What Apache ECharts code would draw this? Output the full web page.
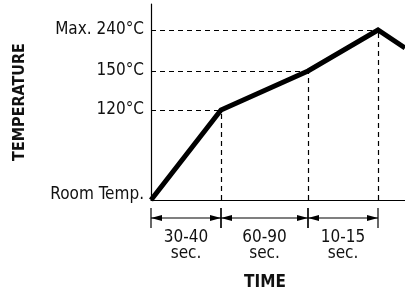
<!DOCTYPE html>
<html>
<head>
<meta charset="UTF-8"/>
<script src="https://cdn.jsdelivr.net/npm/echarts@6.0.0/dist/echarts.min.js"></script>
<style>
  html, body { margin: 0; padding: 0; background: #fff; }
  #chart { width: 405px; height: 292px; }
</style>
</head>
<body>
<div id="chart"></div>
<script>
// profile points (schematic time units / temperature levels)
var times = [0, 70, 157, 227, 254];
var levels = [0, 90, 129, 170, 152];
// y axis labelled levels
var tickLevels = [0, 90, 129, 170];
var tickLabels = ['Room Temp.', '120°C', '150°C', 'Max. 240°C'];
// time intervals under the axis
var spanStart = [0, 70, 157];
var spanEnd = [70, 157, 227];
var spanLabels = ['30-40', '60-90', '10-15'];

var FONT = "'DejaVu Sans Condensed', 'Liberation Sans Narrow', sans-serif";

var lineData = times.map(function (t, i) { return [t, levels[i]]; });

// dashed guides from axes to each knee of the curve
var guides = [];
for (var i = 1; i < 4; i++) {
    guides.push([{coord: [0, levels[i]]}, {coord: [times[i], levels[i]]}]);
    guides.push([{coord: [times[i], 0]}, {coord: [times[i], levels[i]]}]);
}

var spanData = spanStart.map(function (s, i) { return [s, spanEnd[i], spanLabels[i]]; });

function renderSpan(params, api) {
    var a = api.coord([api.value(0), 0]);
    var b = api.coord([api.value(1), 0]);
    var y0 = a[1];
    var ay = y0 + 18;
    var al = 11, ah = 3;
    var mid = (a[0] + b[0]) / 2;
    var st = {stroke: '#000', lineWidth: 1.2};
    return {
        type: 'group',
        children: [
            {type: 'line', shape: {x1: a[0], y1: y0 + 8, x2: a[0], y2: y0 + 28}, style: st},
            {type: 'line', shape: {x1: b[0], y1: y0 + 8, x2: b[0], y2: y0 + 28}, style: st},
            {type: 'line', shape: {x1: a[0], y1: ay, x2: b[0], y2: ay}, style: st},
            {type: 'polygon', shape: {points: [[a[0], ay], [a[0] + al, ay - ah], [a[0] + al, ay + ah]]}, style: {fill: '#000'}},
            {type: 'polygon', shape: {points: [[b[0], ay], [b[0] - al, ay - ah], [b[0] - al, ay + ah]]}, style: {fill: '#000'}},
            {type: 'text', x: mid, y: y0 + 38, style: {text: api.value(2), fill: '#111', font: '17px ' + FONT, align: 'center', verticalAlign: 'middle'}},
            {type: 'text', x: mid, y: y0 + 54, style: {text: 'sec.', fill: '#111', font: '17px ' + FONT, align: 'center', verticalAlign: 'middle'}}
        ]
    };
}

var chart = echarts.init(document.getElementById('chart'));
chart.setOption({
    animation: false,
    grid: {left: 151, right: 0, top: 4, bottom: 92, outerBoundsMode: 'none', containLabel: false},
    xAxis: {
        type: 'value', min: 0, max: 254,
        name: 'TIME', nameLocation: 'middle', nameGap: 74,
        nameTextStyle: {fontFamily: FONT, fontWeight: 'bold', fontSize: 17, color: '#111', padding: [0, 26, 0, 0]},
        axisLine: {show: true, lineStyle: {color: '#000', width: 1.2}},
        axisTick: {show: false}, axisLabel: {show: false}, splitLine: {show: false}
    },
    yAxis: {
        type: 'value', min: 0, max: 196,
        name: 'TEMPERATURE', nameLocation: 'middle', nameGap: 123, nameRotate: 90,
        nameTextStyle: {fontFamily: FONT, fontWeight: 'bold', fontSize: 16, color: '#111'},
        axisLine: {show: true, lineStyle: {color: '#000', width: 1.2}},
        axisTick: {show: false}, splitLine: {show: false},
        axisLabel: {
            customValues: tickLevels, margin: 7,
            fontFamily: FONT, fontSize: 17, color: '#111',
            formatter: function (v) {
                var k = tickLevels.indexOf(v);
                return k === 0 ? '{r|' + tickLabels[k] + '}' : tickLabels[k];
            },
            rich: {r: {fontFamily: FONT, fontSize: 17, color: '#111', padding: [0, 0, 10, 0]}}
        }
    },
    series: [{
        type: 'line', data: lineData, symbol: 'none', z: 3,
        lineStyle: {color: '#000', width: 5, cap: 'butt', join: 'miter'},
        markLine: {
            silent: true, symbol: 'none', label: {show: false},
            lineStyle: {color: '#000', width: 1.2, type: [5, 4]},
            data: guides
        }
    }, {
        type: 'custom', data: spanData, renderItem: renderSpan, clip: false, silent: true
    }]
});
</script>
</body>
</html>
